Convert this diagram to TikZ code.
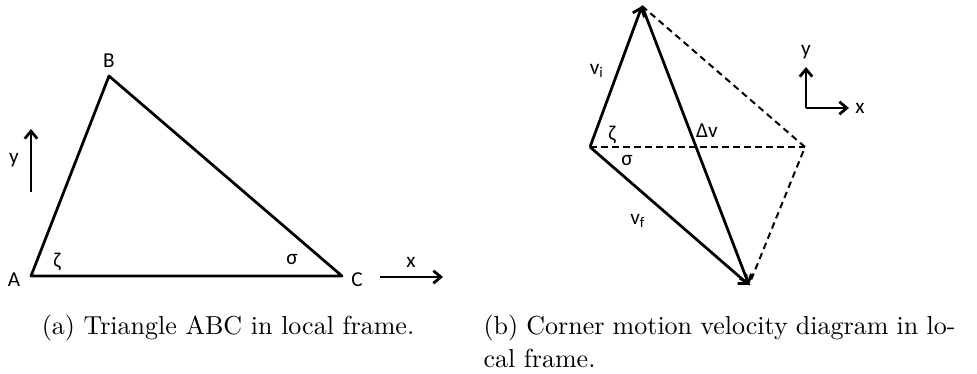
\documentclass[tikz,border=0pt]{standalone}
\usepackage{fontspec}
\newfontfamily\lab{Carlito}
\usetikzlibrary{arrows.meta}
\begin{document}
\begin{tikzpicture}[x=0.4pt,y=-0.4pt,
  edge/.style={line width=1.1pt, line join=round},
  dashedge/.style={line width=0.8pt, dash pattern=on 2.6pt off 1.8pt},
  arr/.style={edge, -{Straight Barb[length=3pt,width=5pt,line width=1.1pt]}},
  lbl/.style={font=\lab\fontsize{8.5}{10}\selectfont, inner sep=0pt},
  captxt/.style={font=\fontsize{10.4}{13.3}\selectfont, inner sep=0pt}]
\useasboundingbox (0,0) rectangle (977,373);
% ---- (a) triangle
\coordinate (A) at (31,276);
\coordinate (B) at (109,76);
\coordinate (C) at (342,276);
\draw[edge] (A) -- (B) -- (C) -- cycle;
\node[lbl] (lA) at (14,280) {A};
\node[lbl] (lB) at (109,61) {B};
\node[lbl] (lC) at (357,280) {C};
\node[lbl] (zA) at (57,262) {ζ};
\node[lbl] (sA) at (292,260) {σ};
\coordinate (ya0) at (31,192);
\coordinate (ya1) at (31,129);
\draw[arr] (ya0) -- (ya1);
\node[lbl] (ly) at (14,160) {y};
\coordinate (xa0) at (380,277);
\coordinate (xa1) at (443,277);
\draw[arr] (xa0) -- (xa1);
\node[lbl] (lx) at (411,262) {x};
% ---- (b) velocity diagram
\coordinate (L) at (590,147);
\coordinate (T) at (642,6);
\coordinate (R) at (805,147);
\coordinate (D) at (749,285);
\draw[dashedge] (T) -- (R) -- (D);
\draw[dashedge] (L) -- (R);
\draw[arr] (L) -- (T);
\draw[arr] (L) -- (D);
\draw[arr] (T) -- (D);
\node[lbl] (lvi) at (597,71) {v\textsubscript{i}};
\node[lbl] (ldv) at (707,131) {Δv};
\node[lbl] (lz) at (612,135) {ζ};
\node[lbl] (ls) at (627,161) {σ};
\node[lbl] (lvf) at (638,221) {v\textsubscript{f}};
\coordinate (O) at (806,108);
\coordinate (Oy) at (806,67);
\coordinate (Ox) at (849,108);
\draw[arr] (O) -- (Oy);
\draw[arr] (O) -- (Ox);
\node[lbl] (lyy) at (806,52) {y};
\node[lbl] (lxx) at (860,108) {x};
% ---- captions
\node[captxt, anchor=base] (capa) at (228,334) {(a) Triangle ABC in local frame.};
\node[captxt, anchor=base west, text width=188.8pt, align=justify] (capb) at (483,334)
  {(b) Corner motion velocity diagram in lo-\linebreak cal frame.};
\end{tikzpicture}
\end{document}
